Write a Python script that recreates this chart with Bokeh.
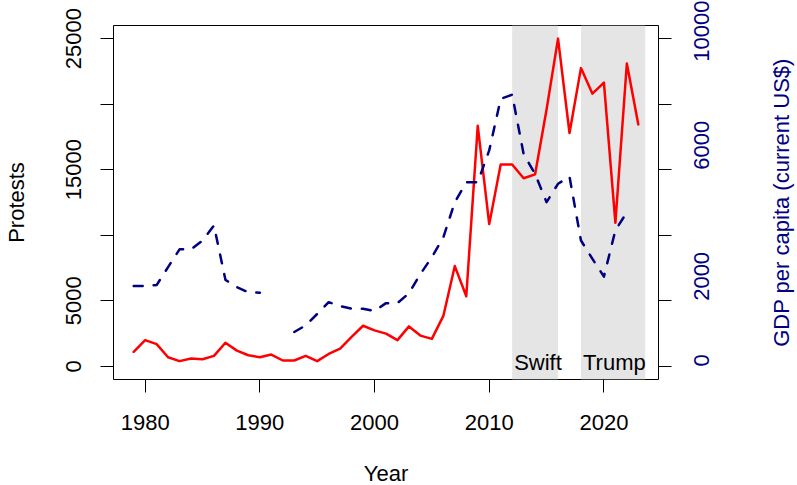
import math
import numpy as np
from bokeh.plotting import figure
from bokeh.models import Range1d, LinearAxis, FixedTicker, Label
from bokeh.core.properties import value
from bokeh.embed import file_html
from bokeh.resources import INLINE

# ---- data ----
years = list(range(1979, 2024))
protests = [1100, 2000, 1700, 700, 400, 600, 550, 800, 1800, 1200,
            850, 700, 900, 450, 450, 800, 400, 950, 1350, 2250,
            3100, 2750, 2500, 2000, 3050, 2350, 2100, 3850, 7650, 5350,
            18350, 10850, 15400, 15400, 14350, 14650, 19600, 25000, 17800, 22750,
            20800, 21650, 10950, 23100, 18450]
nan = float("nan")
gdp = [2450, 2450, 2480, 3030, 3570, 3570, 3840, 4300, 2640, 2420,
       2260, 2250, nan, nan, 1050, 1250, 1600, 1960, 1840, 1760,
       1760, 1690, 1930, 1930, 2230, 2820, 3330, 3940, 5010, 5620,
       5620, 6590, 8160, 8290, 6480, 5870, 5010, 5570, 5790, 3840,
       3280, 2740, 4150, 4700, nan]
shade_start = [2012, 2018]
shade_end = [2016, 2023.6]
shade_labels = ["Swift", "Trump"]
x_ticks = [1980, 1990, 2000, 2010, 2020]
protest_ticks = [0, 5000, 10000, 15000, 20000, 25000]
protest_hidden = [10000, 20000]
gdp_ticks = [0, 2000, 4000, 6000, 8000, 10000]
gdp_hidden = [4000, 8000]

FONT = "Liberation Sans"
FS = "22px"
NAVY = "#000080"

p = figure(frame_width=545, frame_height=354,
           x_range=Range1d(1977.24, 2024.76), y_range=Range1d(-1000, 26000),
           output_backend="svg", toolbar_location=None,
           min_border_left=113, min_border_top=25,
           min_border_right=139, min_border_bottom=100)
p.extra_y_ranges = {"gdp": Range1d(-400, 10400)}
p.grid.visible = False
p.outline_line_color = "black"
p.outline_line_width = 1
p.background_fill_color = "white"
p.border_fill_color = "white"

right = LinearAxis(y_range_name="gdp")
p.add_layout(right, "right")

def style(ax):
    ax.axis_line_color = None
    ax.major_tick_in = 0
    ax.major_tick_out = 13
    ax.major_tick_line_color = "black"
    ax.major_tick_line_width = 1
    ax.minor_tick_line_color = None
    ax.major_label_text_font = FONT
    ax.major_label_text_font_size = FS
    ax.axis_label_text_font = FONT
    ax.axis_label_text_font_size = FS
    ax.axis_label_text_font_style = "normal"
    ax.major_label_text_color = "black"
    ax.axis_label_text_color = "black"

xa = p.xaxis[0]
ya = p.yaxis[0]
for ax in (xa, ya, right):
    style(ax)

xa.ticker = FixedTicker(ticks=x_ticks)
xa.axis_label = "Year"
xa.major_label_standoff = 22
xa.axis_label_standoff = 28

ya.ticker = FixedTicker(ticks=protest_ticks)
ya.major_label_overrides = {t: "" for t in protest_hidden}
ya.major_label_orientation = "vertical"
ya.axis_label = "Protests"
ya.major_label_standoff = 19
ya.axis_label_standoff = 35

right.ticker = FixedTicker(ticks=gdp_ticks)
right.major_label_overrides = {t: "" for t in gdp_hidden}
right.major_label_orientation = math.pi / 2
right.major_label_text_color = NAVY
right.major_label_standoff = 30

# right-hand axis title, reading bottom to top (in the right side panel)
p.add_layout(Label(x=781, y=202, x_units="canvas", y_units="canvas",
                   text="GDP per capita (current US$)", angle=math.pi / 2,
                   text_align="center", text_baseline="middle",
                   text_font=FONT, text_font_size=FS, text_color=NAVY),
             "right")

# shaded periods
p.quad(left=shade_start, right=shade_end, bottom=-1000, top=26000,
       fill_color="#E5E5E5", line_color=None)

p.line(years, protests, line_color="red", line_width=2.5,
       line_join="round", line_cap="round")
p.line(years, np.array(gdp, dtype=float), y_range_name="gdp",
       line_color=NAVY, line_width=2.5, line_dash="9 11",
       line_join="round", line_cap="round")

p.text(x=shade_start, y=[300, 300], text=shade_labels,
       text_font=value(FONT), text_font_size=FS, text_color="black",
       text_align="left", text_baseline="alphabetic", x_offset=2)

open("out.html", "w").write(file_html(p, INLINE))
